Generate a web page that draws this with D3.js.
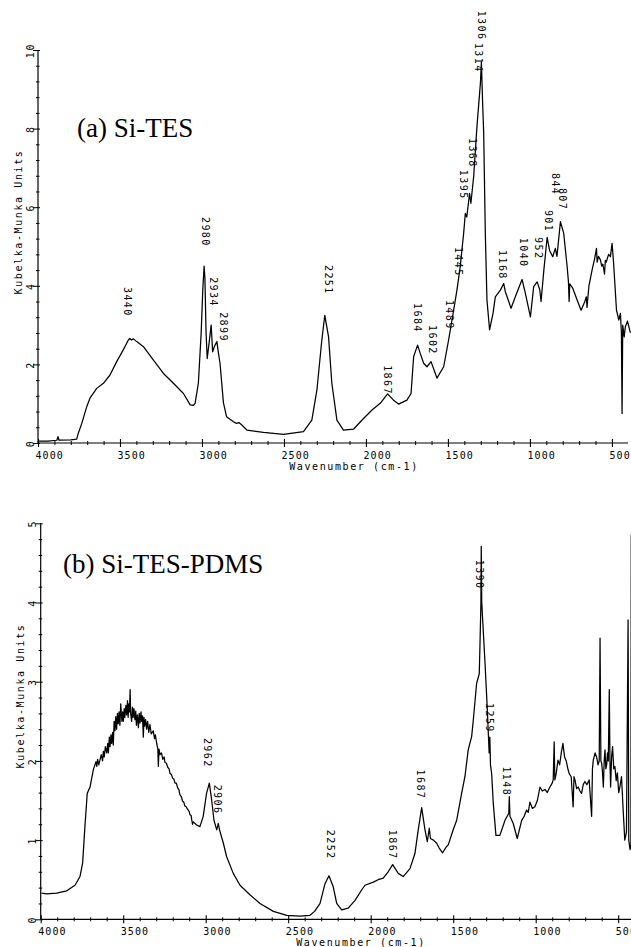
<!DOCTYPE html>
<html><head><meta charset="utf-8">
<script src="https://cdn.jsdelivr.net/npm/d3@7"></script>
<style>body{margin:0;background:#fff}svg{display:block}</style>
</head><body>
<svg id="c" width="631" height="947"></svg>
<script>
// ---------- data ----------
const xTicks = [4000, 3500, 3000, 2500, 2000, 1500, 1000, 500];
const topYTicks = [0, 2, 4, 6, 8, 10];
const botYTicks = [0, 1, 2, 3, 4, 5];
const yTitle = "Kubelka-Munka Units";
const xTitle = "Wavenumber (cm-1)";
const topTitle = "(a) Si-TES";
const botTitle = "(b) Si-TES-PDMS";

// [wavenumber, Kubelka-Munk value]
const topSpectrum = [
[3995,0.05],[3940,0.05],[3885,0.07],[3878,0.16],[3872,0.07],[3800,0.08],[3764,0.1],[3754,0.25],[3733,0.5],[3703,0.92],[3683,1.14],[3642,1.39],[3601,1.52],[3561,1.73],[3520,2.07],[3480,2.37],[3449,2.62],[3440,2.66],[3430,2.62],[3418,2.65],[3398,2.58],[3357,2.45],[3296,2.11],[3235,1.77],[3174,1.52],[3113,1.26],[3072,0.97],[3052,0.96],[3042,1.01],[3022,1.52],[3005,2.79],[2995,3.9],[2987,4.5],[2982,4.2],[2975,2.8],[2968,2.15],[2955,2.6],[2944,3.0],[2935,2.32],[2925,2.45],[2909,2.58],[2900,2.3],[2890,2.03],[2869,1.02],[2850,0.67],[2808,0.54],[2790,0.5],[2775,0.52],[2755,0.45],[2726,0.33],[2625,0.27],[2503,0.22],[2381,0.29],[2330,0.58],[2299,1.35],[2269,2.62],[2251,3.25],[2228,2.7],[2208,1.52],[2177,0.58],[2137,0.33],[2076,0.35],[2025,0.58],[1963,0.84],[1913,1.01],[1868,1.25],[1832,1.09],[1801,0.99],[1750,1.09],[1725,1.26],[1709,2.2],[1685,2.49],[1669,2.28],[1648,2.03],[1628,1.94],[1603,2.07],[1577,1.77],[1567,1.65],[1526,1.94],[1496,2.62],[1475,3.13],[1445,3.89],[1425,4.49],[1404,5.34],[1394,5.84],[1385,5.75],[1368,6.35],[1360,6.1],[1343,6.78],[1323,8.05],[1302,9.15],[1296,9.7],[1288,8.6],[1282,7.9],[1272,5.34],[1262,3.64],[1246,2.88],[1225,3.3],[1211,3.72],[1180,3.89],[1160,4.06],[1150,3.85],[1115,3.43],[1089,3.72],[1048,4.16],[1030,3.85],[997,3.21],[977,3.98],[956,4.1],[940,3.9],[932,3.6],[915,4.4],[895,5.23],[880,4.9],[861,4.74],[845,4.95],[835,4.75],[814,5.63],[794,5.34],[773,4.49],[765,4.1],[761,3.6],[757,4.05],[740,3.95],[712,3.64],[688,3.38],[665,3.6],[656,3.72],[652,3.45],[640,4.0],[621,4.4],[605,4.7],[594,4.95],[590,4.6],[582,4.75],[570,4.66],[562,4.5],[555,4.55],[545,4.3],[540,4.65],[535,4.6],[520,4.8],[509,4.74],[499,5.08],[490,4.6],[472,3.38],[458,3.13],[448,3.3],[442,2.8],[438,0.75],[434,3.0],[425,2.7],[418,2.96],[405,3.1],[387,2.8]
];

const botSpectrum = [
[3995,0.33],[3964,0.32],[3903,0.33],[3842,0.36],[3792,0.43],[3762,0.54],[3746,0.71],[3732,1.17],[3718,1.59],[3701,1.67],[3681,1.89],[3665,1.99],[3660,1.93],[3655,2.02],[3648,1.95],[3641,2.01],[3633,2.08],[3625,2.0],[3620,2.12],[3615,2.05],[3608,2.18],[3600,2.1],[3594,2.22],[3590,2.1],[3584,2.3],[3580,2.18],[3574,2.33],[3570,2.22],[3564,2.36],[3560,2.2],[3555,2.5],[3550,2.38],[3545,2.56],[3540,2.4],[3535,2.6],[3530,2.47],[3525,2.62],[3520,2.45],[3515,2.72],[3508,2.5],[3503,2.62],[3499,2.5],[3494,2.66],[3490,2.55],[3484,2.7],[3479,2.58],[3474,2.76],[3470,2.55],[3466,2.72],[3462,2.62],[3458,2.9],[3455,2.6],[3449,2.5],[3444,2.68],[3440,2.55],[3435,2.66],[3429,2.52],[3424,2.63],[3420,2.45],[3414,2.58],[3408,2.42],[3403,2.6],[3398,2.48],[3392,2.62],[3388,2.5],[3383,2.57],[3378,2.3],[3374,2.55],[3370,2.44],[3364,2.52],[3358,2.4],[3352,2.5],[3345,2.36],[3338,2.46],[3330,2.34],[3318,2.38],[3310,2.28],[3305,2.33],[3297,2.22],[3290,2.15],[3287,1.93],[3283,2.15],[3277,2.08],[3268,2.1],[3260,2.02],[3252,2.05],[3247,1.98],[3238,1.97],[3230,1.92],[3222,1.9],[3216,1.84],[3208,1.83],[3200,1.78],[3193,1.77],[3186,1.72],[3178,1.72],[3170,1.66],[3163,1.64],[3156,1.57],[3148,1.55],[3140,1.49],[3133,1.48],[3126,1.43],[3118,1.42],[3110,1.39],[3100,1.36],[3095,1.32],[3088,1.31],[3085,1.26],[3080,1.2],[3075,1.23],[3055,1.19],[3035,1.17],[3015,1.3],[2995,1.59],[2978,1.72],[2964,1.51],[2950,1.25],[2933,1.13],[2924,1.21],[2915,1.12],[2893,0.96],[2873,0.79],[2833,0.58],[2792,0.43],[2732,0.31],[2671,0.2],[2590,0.1],[2509,0.05],[2429,0.04],[2368,0.05],[2340,0.1],[2307,0.2],[2277,0.45],[2253,0.55],[2227,0.41],[2206,0.2],[2176,0.12],[2136,0.14],[2095,0.24],[2055,0.37],[2035,0.43],[1984,0.47],[1955,0.5],[1924,0.52],[1894,0.6],[1867,0.69],[1833,0.58],[1803,0.54],[1762,0.64],[1732,0.83],[1712,1.13],[1691,1.41],[1671,1.13],[1657,0.98],[1645,1.15],[1638,1.02],[1620,1.0],[1600,0.96],[1585,0.9],[1564,0.84],[1540,0.92],[1530,0.94],[1500,1.13],[1479,1.25],[1449,1.59],[1429,1.8],[1409,2.14],[1388,2.31],[1378,2.52],[1358,2.98],[1342,3.1],[1338,3.44],[1332,3.99],[1330,4.71],[1327,4.0],[1318,3.65],[1307,3.23],[1294,2.68],[1282,2.1],[1278,2.3],[1274,1.95],[1267,1.84],[1257,1.46],[1241,1.06],[1217,1.06],[1186,1.25],[1163,1.34],[1160,1.55],[1156,1.3],[1136,1.21],[1112,1.02],[1085,1.25],[1070,1.3],[1055,1.38],[1045,1.35],[1035,1.48],[1020,1.4],[1005,1.42],[990,1.5],[974,1.67],[960,1.62],[944,1.64],[930,1.6],[914,1.67],[900,1.72],[894,1.76],[888,2.24],[884,1.76],[875,1.85],[865,2.01],[855,1.95],[845,2.1],[835,2.22],[825,2.05],[815,2.0],[805,1.9],[797,1.84],[785,1.8],[773,1.42],[768,1.8],[762,1.76],[752,1.65],[742,1.67],[732,1.62],[722,1.59],[712,1.7],[702,1.74],[690,1.7],[676,1.76],[661,1.3],[656,1.9],[651,2.01],[640,2.1],[631,2.05],[622,1.95],[615,2.0],[610,3.55],[605,2.0],[600,1.97],[595,1.85],[590,1.67],[585,2.0],[580,2.14],[575,1.9],[570,1.95],[565,2.1],[560,2.0],[554,2.9],[550,2.0],[546,1.67],[540,2.05],[534,2.18],[527,1.9],[520,1.93],[512,1.75],[505,1.85],[497,1.6],[490,1.67],[480,1.8],[474,1.55],[470,1.38],[460,1.0],[450,1.1],[440,3.78],[436,1.0],[428,0.88],[423,0.95],[421,4.85],[419,1.0]
];

// peak annotations: text, wavenumber where the label sits, value at the label's top end
const topPeakText = ["3440","2980","2934","2899","2251","1867","1684","1602","1489","1445","1395","1368","1314","1306","1168","1040","952","901","844","807"];
const topPeakAt   = [3451,2975,2932,2871,2230,1870,1687,1595,1492,1437,1406,1351,1315,1296,1168,1040,949,888,845,802];
const topPeakTop  = [3.97,5.75,4.22,3.33,4.53,1.98,3.56,3.0,3.64,4.99,6.95,7.76,10.18,11.0,4.91,5.22,5.24,5.93,6.87,6.49];

const botPeakText = ["2962","2906","2252","1867","1687","1390","1259","1148"];
const botPeakAt   = [2986,2926,2241,1865,1696,1338,1277,1174];
const botPeakTop  = [2.29,1.70,1.13,1.13,1.89,4.54,2.73,1.93];

// ---------- drawing ----------
const svg = d3.select("#c");
const mono = "DejaVu Sans Mono";

function drawPanel(o) {
  const g = svg.append("g");
  const x = d3.scaleLinear().domain([4000, 500]).range([o.x0, o.x500]);
  const y = d3.scaleLinear().domain([0, o.ymax]).range([o.y0, o.ytop]);

  // x axis: minor ticks
  const minor = d3.range(4000, 300, -100).filter(d => d % 500 !== 0 && x(d) <= o.xEnd);
  const gm = g.append("g").attr("transform", `translate(0,${o.y0})`)
    .call(d3.axisBottom(x).tickValues(minor).tickSize(2).tickFormat(""));
  gm.select(".domain").remove();
  gm.selectAll(".tick line").attr("y1", -2).attr("y2", 2).attr("stroke", "#000");

  const gx = g.append("g").attr("transform", `translate(0,${o.y0})`)
    .call(d3.axisBottom(x).tickValues(xTicks).tickSize(4).tickFormat(d3.format("d")));
  gx.select(".domain").remove();
  gx.selectAll(".tick line").attr("y1", -4).attr("y2", 4).attr("stroke", "#000").attr("stroke-width", 1.1);
  gx.selectAll(".tick text").attr("y", 12).attr("dy", "0.36em").attr("x", -3)
    .attr("text-anchor", "start").attr("font-family", mono).attr("font-size", 10)
    .attr("letter-spacing", 1.1).attr("fill", "#000");
  g.append("line").attr("x1", o.x0).attr("x2", o.xEnd).attr("y1", o.y0).attr("y2", o.y0)
    .attr("stroke", "#000").attr("stroke-width", 1.2);

  // y axis
  const yMinor = d3.range(0, o.ymax + 1e-9, o.yMinorStep).filter(d => !o.yTicks.some(t => Math.abs(t - d) < 1e-6));
  const gym = g.append("g").attr("transform", `translate(${o.x0},0)`)
    .call(d3.axisLeft(y).tickValues(yMinor).tickSize(2).tickFormat(""));
  gym.select(".domain").remove();
  gym.selectAll(".tick line").attr("x1", -2).attr("x2", 1.5).attr("stroke", "#000");
  const gy = g.append("g").attr("transform", `translate(${o.x0},0)`)
    .call(d3.axisLeft(y).tickValues(o.yTicks).tickSize(5).tickFormat(d3.format("d")));
  gy.select(".domain").attr("stroke", "#000").attr("stroke-width", 1.2).attr("d", `M0,${o.y0}V${o.ytop}`);
  gy.selectAll(".tick line").attr("x1", -5).attr("x2", 2).attr("stroke", "#000");
  gy.selectAll(".tick text").attr("x", null).attr("dy", null)
    .attr("transform", "translate(-4.5,0) rotate(-90)").attr("text-anchor", "middle")
    .attr("font-family", mono).attr("font-size", 10).attr("letter-spacing", 1.6).attr("fill", "#000");

  // axis titles
  g.append("text").attr("transform", `translate(${o.yTitleX},${o.yTitleY}) rotate(-90)`)
    .attr("text-anchor", "middle").attr("font-family", mono).attr("font-size", 10)
    .attr("letter-spacing", 1.6).text(yTitle);
  g.append("text").attr("x", o.xTitleX).attr("y", o.y0 + 26.5).attr("text-anchor", "middle")
    .attr("font-family", mono).attr("font-size", 10).attr("letter-spacing", 1.6).text(xTitle);

  // spectrum
  const line = d3.line().x(d => x(d[0])).y(d => y(d[1]));
  g.append("path").datum(o.data).attr("d", line).attr("fill", "none")
    .attr("stroke", "#000").attr("stroke-width", 1.25).attr("stroke-linejoin", "round");

  // peak labels
  o.peakText.forEach((t, i) => {
    g.append("text")
      .attr("transform", `translate(${x(o.peakAt[i]) - 3.6},${y(o.peakTop[i])}) rotate(90)`)
      .attr("font-family", mono).attr("font-size", 10).attr("letter-spacing", 1.4)
      .attr("text-anchor", "start").text(t);
  });

  // panel title
  g.append("text").attr("x", o.titleX).attr("y", o.titleY)
    .attr("font-family", "Liberation Serif").attr("font-size", 27).text(o.title);
}

drawPanel({
  x0: 38, x500: 611.9, xEnd: 628, y0: 443, ytop: 50, ymax: 10,
  yTicks: topYTicks, yMinorStep: 0.4, data: topSpectrum,
  peakText: topPeakText, peakAt: topPeakAt, peakTop: topPeakTop,
  yTitleX: 22, yTitleY: 222, xTitleX: 354, title: topTitle, titleX: 77, titleY: 137
});
drawPanel({
  x0: 40.7, x500: 618.2, xEnd: 631, y0: 919.3, ytop: 523.3, ymax: 5,
  yTicks: botYTicks, yMinorStep: 0.2, data: botSpectrum,
  peakText: botPeakText, peakAt: botPeakAt, peakTop: botPeakTop,
  yTitleX: 24, yTitleY: 696, xTitleX: 361, title: botTitle, titleX: 63, titleY: 573
});
</script>
</body></html>
